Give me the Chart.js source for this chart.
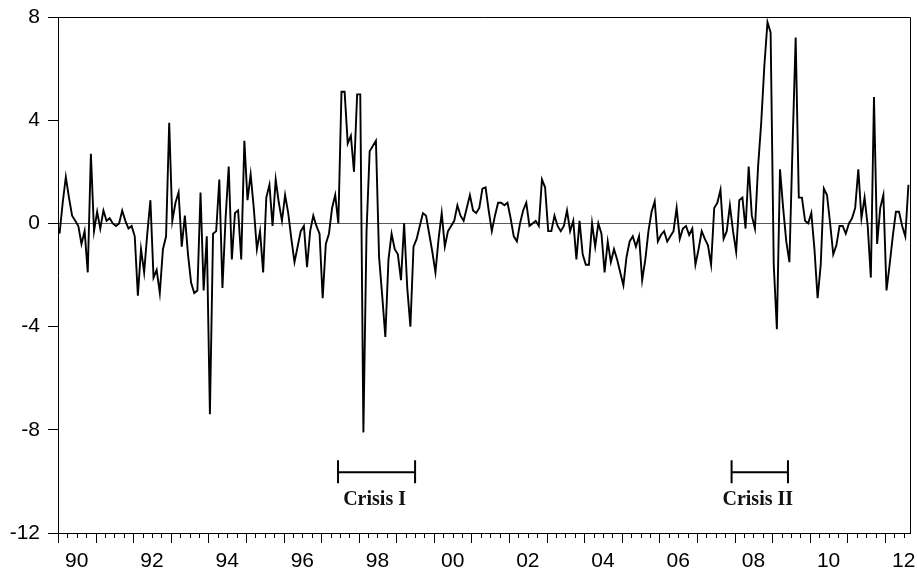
<!DOCTYPE html>
<html>
<head>
<meta charset="utf-8">
<script src="https://cdn.jsdelivr.net/npm/chart.js@4.4.1/dist/chart.umd.min.js"></script>
<style>
  html, body { margin: 0; padding: 0; background: #fff; }
  #wrap { width: 917px; height: 571px; }
</style>
</head>
<body>
<div id="wrap"><canvas id="chart" width="917" height="571"></canvas></div>
<script>
// Monthly series, Jan 1990 - Aug 2012 (one row per year)
const startYear = 1990;

const values1990s = [
  -0.4, 0.8, 1.8, 1.0, 0.3, 0.1, -0.1, -0.8, -0.3, -1.9, 2.7, -0.3,
  0.45, -0.2, 0.5, 0.1, 0.2, 0.0, -0.1, 0.0, 0.5, 0.1, -0.2, -0.1,
  -0.5, -2.8, -1.0, -1.9, -0.4, 0.9, -2.1, -1.8, -2.7, -1.0, -0.5, 3.9,
  0.1, 0.8, 1.2, -0.9, 0.3, -1.2, -2.3, -2.7, -2.6, 1.2, -2.6, -0.5,
  -7.4, -0.4, -0.3, 1.7, -2.5, 0.2, 2.2, -1.4, 0.4, 0.5, -1.4, 3.2,
  0.9, 1.9, 0.6, -1.0, -0.3, -1.9, 1.0, 1.5, -0.1, 1.7, 0.8, 0.1,
  1.1, 0.4, -0.6, -1.5, -0.9, -0.3, -0.1, -1.7, -0.3, 0.3, -0.1, -0.4,
  -2.9, -0.8, -0.4, 0.6, 1.1, 0.0, 5.1, 5.1, 3.1, 3.4, 2.0, 5.0,
  5.0, -8.1, -0.3, 2.8, 3.0, 3.2, -1.3, -2.8, -4.4, -1.4, -0.4, -1.0,
  -1.2, -2.2, 0.0, -2.5, -4.0, -0.9, -0.6, -0.1, 0.4, 0.3, -0.4, -1.1
];

const values2000s = [
  -1.9, -0.6, 0.4, -0.9, -0.3, -0.1, 0.1, 0.7, 0.3, 0.1, 0.6, 1.1,
  0.5, 0.4, 0.6, 1.35, 1.4, 0.5, -0.3, 0.3, 0.8, 0.8, 0.7, 0.8,
  0.2, -0.5, -0.7, 0.0, 0.5, 0.8, -0.1, 0.0, 0.1, -0.1, 1.7, 1.4,
  -0.3, -0.3, 0.3, -0.1, -0.3, -0.1, 0.5, -0.3, 0.1, -1.4, 0.1, -1.2,
  -1.6, -1.6, 0.0, -0.9, 0.0, -0.4, -1.9, -0.7, -1.5, -1.0, -1.4, -1.9,
  -2.4, -1.3, -0.7, -0.5, -0.9, -0.5, -2.2, -1.4, -0.3, 0.45, 0.85, -0.7,
  -0.45, -0.3, -0.7, -0.5, -0.3, 0.6, -0.6, -0.2, -0.1, -0.45, -0.2, -1.6,
  -1.0, -0.3, -0.6, -0.85, -1.6, 0.6, 0.8, 1.3, -0.6, -0.3, 0.7, -0.3,
  -1.1, 0.9, 1.0, -0.2, 2.2, 0.3, -0.2, 2.2, 3.9, 6.1, 7.8, 7.4,
  -1.6, -4.1, 2.1, 0.6, -0.7, -1.5, 3.0, 7.2, 1.0, 1.0, 0.1, 0.0
];

const values2010s = [
  0.4, -1.0, -2.9, -1.6, 1.35, 1.1, 0.0, -1.2, -0.85, -0.1, -0.1, -0.4,
  0.0, 0.2, 0.6, 2.1, 0.2, 1.0, -0.1, -2.1, 4.9, -0.8, 0.6, 1.1,
  -2.6, -1.6, -0.5, 0.45, 0.45, -0.1, -0.5, 1.5
];

// axis labels
const yearLabels = ['90', '92', '94', '96', '98', '00', '02', '04', '06', '08', '10', '12'];
const yTicks = [8, 4, 0, -4, -8, -12];

// crisis periods (decimal years) and the level where the bracket sits
const crisisNames = ['Crisis I', 'Crisis II'];
const crisisStart = [1997.45, 2007.92];
const crisisEnd = [1999.5, 2009.42];
const bracketLevel = -9.65;

const seriesValues = [...values1990s, ...values2000s, ...values2010s];
const points = seriesValues.map((v, i) => ({ x: startYear + (i + 0.5) / 12, y: v }));
const endYear = startYear + seriesValues.length / 12;

Chart.defaults.font.family = '"Liberation Sans", Arial, sans-serif';
Chart.defaults.font.size = 21;
Chart.defaults.color = '#000';

// quarter ticks on the time axis, frame, crisis brackets
const decorPlugin = {
  id: 'decor',
  afterDraw(chart) {
    const { ctx, chartArea: a, scales: { x, y } } = chart;
    ctx.save();
    ctx.strokeStyle = '#000';
    ctx.lineWidth = 1;
    ctx.beginPath();
    ctx.moveTo(a.left, a.top + 0.5);
    ctx.lineTo(a.right + 0.5, a.top + 0.5);
    ctx.lineTo(a.right + 0.5, a.bottom);
    ctx.stroke();

    ctx.beginPath();
    for (let q = startYear * 4; q <= endYear * 4 + 0.001; q++) {
      const px = Math.round(x.getPixelForValue(q / 4)) + 0.5;
      const len = q % 4 === 0 ? 10 : 5;
      ctx.moveTo(px, a.bottom);
      ctx.lineTo(px, a.bottom + len);
    }
    ctx.stroke();

    ctx.lineWidth = 2;
    ctx.fillStyle = '#111';
    ctx.font = 'bold 20px "Liberation Serif", "Times New Roman", serif';
    ctx.textAlign = 'center';
    ctx.textBaseline = 'middle';
    crisisNames.forEach((name, i) => {
      const x1 = x.getPixelForValue(crisisStart[i]);
      const x2 = x.getPixelForValue(crisisEnd[i]);
      const py = y.getPixelForValue(bracketLevel);
      ctx.beginPath();
      ctx.moveTo(x1, py); ctx.lineTo(x2, py);
      ctx.moveTo(x1, py - 12); ctx.lineTo(x1, py + 11);
      ctx.moveTo(x2, py - 12); ctx.lineTo(x2, py + 11);
      ctx.stroke();
      ctx.fillText(name, (x1 + x2) / 2 - 2, py + 27);
    });
    ctx.restore();
  }
};

new Chart(document.getElementById('chart'), {
  type: 'line',
  data: {
    datasets: [{
      data: points,
      borderColor: '#000',
      borderWidth: 1.9,
      pointRadius: 0,
      tension: 0,
      fill: false
    }]
  },
  options: {
    responsive: false,
    animation: false,
    events: [],
    layout: { padding: { top: 17, right: 7, left: 0, bottom: 0 } },
    plugins: { legend: { display: false }, tooltip: { enabled: false } },
    scales: {
      x: {
        type: 'linear',
        min: startYear,
        max: endYear,
        afterFit: s => { s.height = 38; s.paddingLeft = 0; s.paddingRight = 0; },
        afterBuildTicks: s => { s.ticks = yearLabels.map((l, i) => ({ value: startYear + 0.5 + 2 * i })); },
        grid: { display: false, drawTicks: false },
        border: { display: true, color: '#000', width: 1 },
        ticks: {
          autoSkip: false,
          maxRotation: 0,
          padding: 16,
          callback: (v, i) => yearLabels[i]
        }
      },
      y: {
        min: -12,
        max: 8,
        afterFit: s => { s.width = 58; s.paddingTop = 0; s.paddingBottom = 0; },
        afterBuildTicks: s => { s.ticks = yTicks.map(v => ({ value: v })); },
        grid: {
          color: c => (c.tick && c.tick.value === 0 ? '#5a5a5a' : 'rgba(0,0,0,0)'),
          tickColor: '#000',
          tickLength: 10,
          lineWidth: 1
        },
        border: { display: true, color: '#000', width: 1 },
        ticks: {
          padding: 8,
          callback: v => String(v)
        }
      }
    }
  },
  plugins: [decorPlugin]
});
</script>
</body>
</html>
